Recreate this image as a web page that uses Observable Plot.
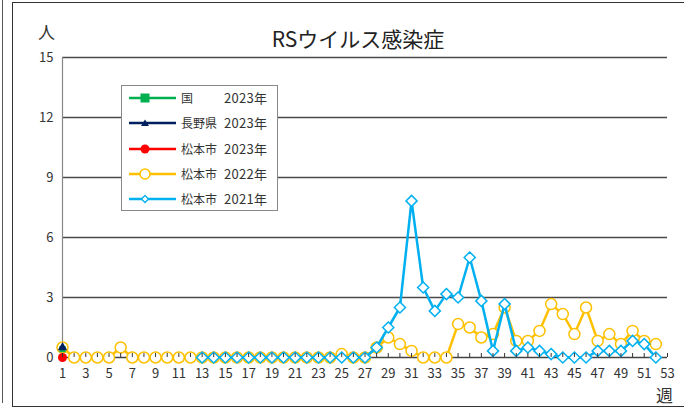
<!DOCTYPE html>
<html><head><meta charset="utf-8">
<script src="https://cdn.jsdelivr.net/npm/d3@7"></script>
<script src="https://cdn.jsdelivr.net/npm/@observablehq/plot@0.6"></script>
<style>
body{margin:0;background:#fff;font-family:"Noto Sans CJK JP","Noto Sans",sans-serif;color:#333;}
#wrap{position:relative;width:684px;height:409px;overflow:hidden;}
#wrap svg.plot{position:absolute;left:0;top:0;}
.frame{position:absolute;left:12px;top:2px;width:700px;height:403px;border:1.5px solid #333;}
.edge{position:absolute;left:2px;top:0;height:403px;border-left:1.5px solid #555;}
.lbl{position:absolute;white-space:nowrap;}
#legend{position:absolute;left:121px;top:85px;width:155px;height:124px;border:1px solid #888;background:#fff;}
.item{position:absolute;left:0;height:20px;width:155px;font-size:12px;}
.item .nm{position:absolute;left:59px;top:1px;}
.item .yr{position:absolute;left:102px;top:1px;font-size:13px;letter-spacing:0.3px;top:0px;}
</style></head><body>
<div id="wrap">
  <div class="edge"></div>
  <div class="frame"></div>
</div>
<script>
const weeks = d3.range(1, 53);
const allWeeks = d3.range(1, 54);
const tickLabels = d3.range(1, 54, 2);
const yTicks = [0, 3, 6, 9, 12, 15];

const national2023 = [0.42];
const nagano2023 = [0.5];
const matsumoto2023 = [0];
const matsumoto2022 = [0.5,0,0,0,0,0.5,0,0,0,0, 0,0,0,0,0,0,0,0,0,0, 0,0,0,0,0.17,0,0,0.5,1.0,0.67, 0.33,0,0,0,1.67,1.5,1.0,1.17,2.5,0.83, 0.83,1.33,2.67,2.17,1.17,2.5,0.83,1.17,0.67,1.33, 0.83,0.67];
const matsumoto2021 = [null,null,null,null,null,null,null,null,null,null, null,null,0,0,0,0,0,0,0,0, 0,0,0,0,0,0,0,0.5,1.5,2.5, 7.83,3.5,2.33,3.17,3.0,5.0,2.83,0.33,2.67,0.33, 0.5,0.33,0.17,0,0,0,0.33,0.33,0.33,0.83, 0.67,0];

const seriesNames = ["国","長野県","松本市","松本市","松本市"];
const seriesYears = ["2023年","2023年","2023年","2022年","2021年"];
const colors = ["#00B050","#002060","#FF0000","#FFC000","#00B0F0"];

const toRows = arr => arr.map((v,i)=>({week: weeks[i], value: v})).filter(d => d.value != null);
const d2022 = toRows(matsumoto2022);
const d2021 = toRows(matsumoto2021);
const dNat = toRows(national2023);
const dNag = toRows(nagano2023);
const dMat = toRows(matsumoto2023);

const chart = Plot.plot({
  width: 684, height: 409,
  marginLeft: 62, marginRight: 17, marginTop: 57, marginBottom: 52,
  x: {domain: [1, 53], axis: null},
  y: {domain: [0, 15], axis: null},
  style: {background: "transparent", fontFamily: '"Noto Sans CJK JP","Noto Sans",sans-serif', color: "#333"},
  marks: [
    Plot.ruleY(yTicks.filter(d => d > 0), {y: d => d, stroke: "#4a4a4a", strokeWidth: 1.3}),
    Plot.ruleX([1], {x: d => d, y1: 0, y2: 15, stroke: "#888", strokeWidth: 1.2}),
    Plot.ruleY([0], {y: d => d, stroke: "#444", strokeWidth: 1.3}),
    Plot.text(yTicks, {x: 1, y: d => d, text: d => String(d), dx: -9, textAnchor: "end", fontSize: 13, fill: "#333"}),
    Plot.text(tickLabels, {x: d => d, y: 0, text: d => String(d), dy: 16, fontSize: 13, fill: "#333"}),
    Plot.line(d2022, {x: "week", y: "value", stroke: colors[3], strokeWidth: 2.5}),
    Plot.dot(d2022, {x: "week", y: "value", symbol: "circle", r: 5.5, stroke: colors[3], fill: "white", strokeWidth: 1.5}),
    Plot.line(d2021, {x: "week", y: "value", stroke: colors[4], strokeWidth: 2.5}),
    Plot.dot(d2021, {x: "week", y: "value", symbol: "diamond2", r: 5, stroke: colors[4], fill: "white", strokeWidth: 1.5}),
    Plot.dot(dNat, {x: "week", y: "value", symbol: "square", r: 3.5, fill: colors[0]}),
    Plot.dot(dNag, {x: "week", y: "value", symbol: "triangle", r: 3.5, fill: colors[1]}),
    Plot.dot(dMat, {x: "week", y: "value", symbol: "circle", r: 4.5, fill: colors[2]}),
    Plot.ruleX(allWeeks, {x: d => d, y1: 0, y2: 0.2, stroke: "#333", strokeWidth: 1})
  ]
});
chart.classList.add("plot");
const wrap = document.getElementById("wrap");
wrap.appendChild(chart);

function addLabel(text, left, top, size) {
  const el = document.createElement("div");
  el.className = "lbl";
  el.textContent = text;
  el.style.left = left + "px";
  el.style.top = top + "px";
  el.style.fontSize = size + "px";
  wrap.appendChild(el);
  return el;
}
const title = addLabel("RSウイルス感染症", 0, 23, 21);
title.style.left = "358px"; title.style.transform = "translateX(-50%)"; title.style.color = "#222";
addLabel("人", 38, 19, 17);
addLabel("週", 656, 382, 17);

// legend
const legend = document.createElement("div");
legend.id = "legend";
wrap.appendChild(legend);
const symbols = ["square","triangle","circle","ocircle","diamond"];
seriesNames.forEach((nm, i) => {
  const it = document.createElement("div");
  it.className = "item";
  it.style.top = (2 + i * 25.3) + "px";
  const c = colors[i];
  let marker = "";
  if (symbols[i] === "square") marker = `<rect x="18.5" y="5.5" width="9" height="9" fill="${c}"/>`;
  if (symbols[i] === "triangle") marker = `<path d="M23,6.5 L27,13 L19,13 Z" fill="${c}"/>`;
  if (symbols[i] === "circle") marker = `<circle cx="23" cy="10" r="4.5" fill="${c}"/>`;
  if (symbols[i] === "ocircle") marker = `<circle cx="23" cy="10" r="5" fill="white" stroke="${c}" stroke-width="1.5"/>`;
  if (symbols[i] === "diamond") marker = `<path d="M23,6.5 L26.5,10 L23,13.5 L19.5,10 Z" fill="white" stroke="${c}" stroke-width="1.3"/>`;
  it.innerHTML = `<svg width="60" height="20" style="position:absolute;left:0;top:0"><line x1="7" y1="10" x2="54" y2="10" stroke="${c}" stroke-width="2.5"/>${marker}</svg>` +
    `<span class="nm">${nm}</span><span class="yr">${seriesYears[i]}</span>`;
  legend.appendChild(it);
});
</script>
</body></html>
